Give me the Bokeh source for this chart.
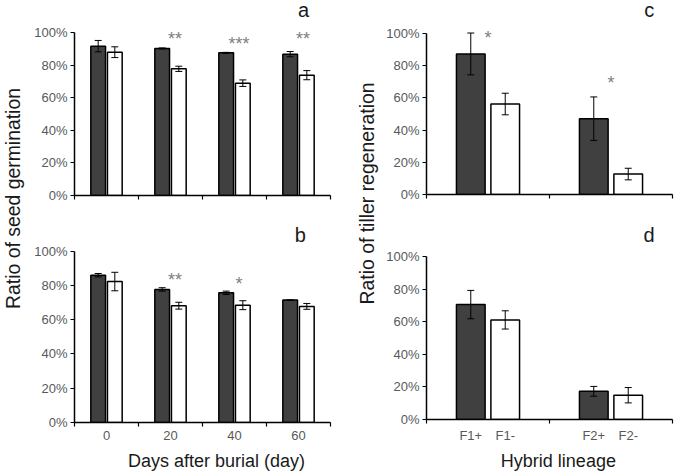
import numpy as np
from bokeh.plotting import figure
from bokeh.models import (Range1d, FixedTicker, PrintfTickFormatter, Whisker,
                          TeeHead, ColumnDataSource)
from bokeh.layouts import row, column
from bokeh.core.properties import value
from bokeh.embed import file_html
from bokeh.resources import INLINE

# ---------------- data ----------------
days = ["0", "20", "40", "60"]
a_dark = [91.6, 90.2, 87.5, 86.7]
a_dark_err = [3.5, 0.3, 0.3, 1.6]
a_white = [87.9, 77.7, 68.9, 73.8]
a_white_err = [3.3, 1.6, 2.0, 2.8]
a_stars = ["", "**", "***", "**"]
a_star_y = [0, 95.8, 92.7, 95.8]

b_dark = [86.0, 77.7, 75.7, 71.5]
b_dark_err = [1.0, 1.0, 1.0, 0.0]
b_white = [82.3, 68.2, 68.5, 67.8]
b_white_err = [5.4, 2.0, 2.6, 1.7]
b_stars = ["", "**", "*", ""]
b_star_y = [0, 83.0, 81.0, 0]

lineages = ["F1", "F2"]
lineage_labels = [("F1+", "F1-"), ("F2+", "F2-")]
c_dark = [87.3, 47.1]
c_dark_err = [13.0, 13.5]
c_white = [56.2, 12.7]
c_white_err = [6.7, 3.6]
c_stars = ["*", "*"]
c_star_y = [97.0, 69.3]

d_dark = [70.5, 17.3]
d_dark_err = [8.7, 3.0]
d_white = [61.1, 14.9]
d_white_err = [5.6, 4.7]

y_ticks = [0, 20, 40, 60, 80, 100]

FONT = "Liberation Sans"
DARK = "#404040"
TICK_COLOR = "#595959"
TEXT_COLOR = "#1a1a1a"


def panel(width, height, ymax, n, mb_left, mb_right, mb_bottom):
    p = figure(width=width, height=height, x_range=Range1d(0, n),
               y_range=Range1d(0, ymax), output_backend="svg",
               toolbar_location=None, min_border=0,
               min_border_left=mb_left, min_border_right=mb_right,
               min_border_top=0, min_border_bottom=mb_bottom)
    p.outline_line_color = None
    p.grid.visible = False
    ya = p.yaxis[0]
    ya.ticker = FixedTicker(ticks=y_ticks)
    ya.formatter = PrintfTickFormatter(format="%d%%")
    ya.bounds = (0, 100)
    ya.axis_line_color = "black"
    ya.axis_line_width = 1.5
    ya.major_tick_out = 4
    ya.major_tick_in = 0
    ya.major_tick_line_color = "black"
    ya.major_tick_line_width = 1.2
    ya.minor_tick_line_color = None
    ya.major_label_standoff = 3
    ya.major_label_text_font = FONT
    ya.major_label_text_font_size = "13px"
    ya.major_label_text_color = TICK_COLOR
    xa = p.xaxis[0]
    xa.axis_line_color = "black"
    xa.axis_line_width = 1.5
    xa.major_tick_out = 0
    xa.major_tick_in = 0
    xa.minor_tick_out = 4
    xa.minor_tick_in = 0
    xa.minor_tick_line_color = "black"
    xa.minor_tick_line_width = 1.2
    xa.major_label_standoff = 4
    xa.major_label_text_font = FONT
    xa.major_label_text_font_size = "13px"
    xa.major_label_text_color = TICK_COLOR
    return p


def bars(p, dark, dark_err, white, white_err, offset, bw):
    n = len(dark)
    centers = np.arange(n) + 0.5
    xd = centers - offset
    xw = centers + offset
    dark = np.array(dark); white = np.array(white)
    de = np.array(dark_err); we = np.array(white_err)
    p.vbar(x=xd, top=dark, width=bw, bottom=0, fill_color=DARK,
           line_color="black", line_width=1.5)
    p.vbar(x=xw, top=white, width=bw, bottom=0, fill_color="white",
           line_color="black", line_width=1.5)
    src = ColumnDataSource(dict(x=np.concatenate([xd, xw]),
                                upper=np.concatenate([dark + de, white + we]),
                                lower=np.concatenate([dark - de, white - we])))
    w = Whisker(base="x", upper="upper", lower="lower", source=src,
                line_color="black", line_width=1, level="overlay",
                upper_head=TeeHead(size=7, line_color="black", line_width=1),
                lower_head=TeeHead(size=7, line_color="black", line_width=1))
    p.add_layout(w)
    return centers, xd, xw


def stars(p, xs, ys, txt):
    keep = [i for i, t in enumerate(txt) if t]
    p.text(x=[xs[i] for i in keep], y=[ys[i] for i in keep],
           text=[txt[i] for i in keep], text_font=value(FONT),
           text_font_size="18px", text_color="#7f7f7f",
           text_align="center", text_baseline="middle")


def letter(p, x, y, t):
    p.text(x=[x], y=[y], text=[t], text_font=value(FONT),
           text_font_size="20px", text_color=TEXT_COLOR,
           text_align="center", text_baseline="middle")


def text_fig(width, height, x, y, t, angle, size):
    p = figure(width=width, height=height, x_range=Range1d(0, width),
               y_range=Range1d(0, height), output_backend="svg",
               toolbar_location=None, min_border=0,
               x_axis_type=None, y_axis_type=None)
    p.outline_line_color = None
    p.grid.visible = False
    p.text(x=[x], y=[y], text=[t], angle=angle, text_font=value(FONT),
           text_font_size=size, text_color=TEXT_COLOR,
           text_align="center", text_baseline="middle")
    return p


# ---------------- panel a ----------------
pa = panel(309, 205, 119.6, len(days), 41, 10, 10)
ca, _, _ = bars(pa, a_dark, a_dark_err, a_white, a_white_err, 0.13, 0.23)
pa.xaxis[0].ticker = FixedTicker(ticks=[], minor_ticks=list(range(len(days) + 1)))
stars(pa, ca + 0.07, a_star_y, a_stars)
letter(pa, 3.58, 113.5, "a")

# ---------------- panel b ----------------
pb = panel(309, 242, 126.7, len(days), 41, 10, 25)
cb, _, _ = bars(pb, b_dark, b_dark_err, b_white, b_white_err, 0.13, 0.23)
pb.xaxis[0].ticker = FixedTicker(ticks=list(cb), minor_ticks=list(range(len(days) + 1)))
pb.xaxis[0].major_label_overrides = {float(c): d for c, d in zip(cb, days)}
stars(pb, cb + 0.07, b_star_y, b_stars)
letter(pb, 3.53, 109.7, "b")
xt1 = text_fig(309, 26, 171.5, 13, "Days after burial (day)", 0, "18px")

# ---------------- panel c ----------------
pc = panel(291, 205, 120.5, len(lineages), 40, 2, 11)
cc, _, _ = bars(pc, c_dark, c_dark_err, c_white, c_white_err, 0.14, 0.233)
pc.xaxis[0].ticker = FixedTicker(ticks=[], minor_ticks=list(range(len(lineages) + 1)))
stars(pc, cc, c_star_y, c_stars)
letter(pc, 1.81, 114.3, "c")

# ---------------- panel d ----------------
pd_ = panel(291, 242, 131.3, len(lineages), 40, 2, 28)
cd, xd, xw = bars(pd_, d_dark, d_dark_err, d_white, d_white_err, 0.14, 0.233)
tick_pos = []
tick_lab = {}
for i in range(len(lineages)):
    for pos, lab in zip((xd[i], xw[i]), lineage_labels[i]):
        tick_pos.append(float(pos))
        tick_lab[float(pos)] = lab
pd_.xaxis[0].ticker = FixedTicker(ticks=tick_pos, minor_ticks=list(range(len(lineages) + 1)))
pd_.xaxis[0].major_label_overrides = tick_lab
letter(pd_, 1.81, 113.5, "d")
xt2 = text_fig(291, 26, 156, 13, "Hybrid lineage", 0, "18px")

t1 = text_fig(31, 473, 12, 275, "Ratio of seed germination", np.pi / 2, "19.4px")
t2 = text_fig(43, 473, 26, 280, "Ratio of tiller regeneration", np.pi / 2, "19.4px")

layout = row(t1, column(pa, pb, xt1), t2, column(pc, pd_, xt2))

open("out.html", "w").write(file_html(layout, INLINE))
